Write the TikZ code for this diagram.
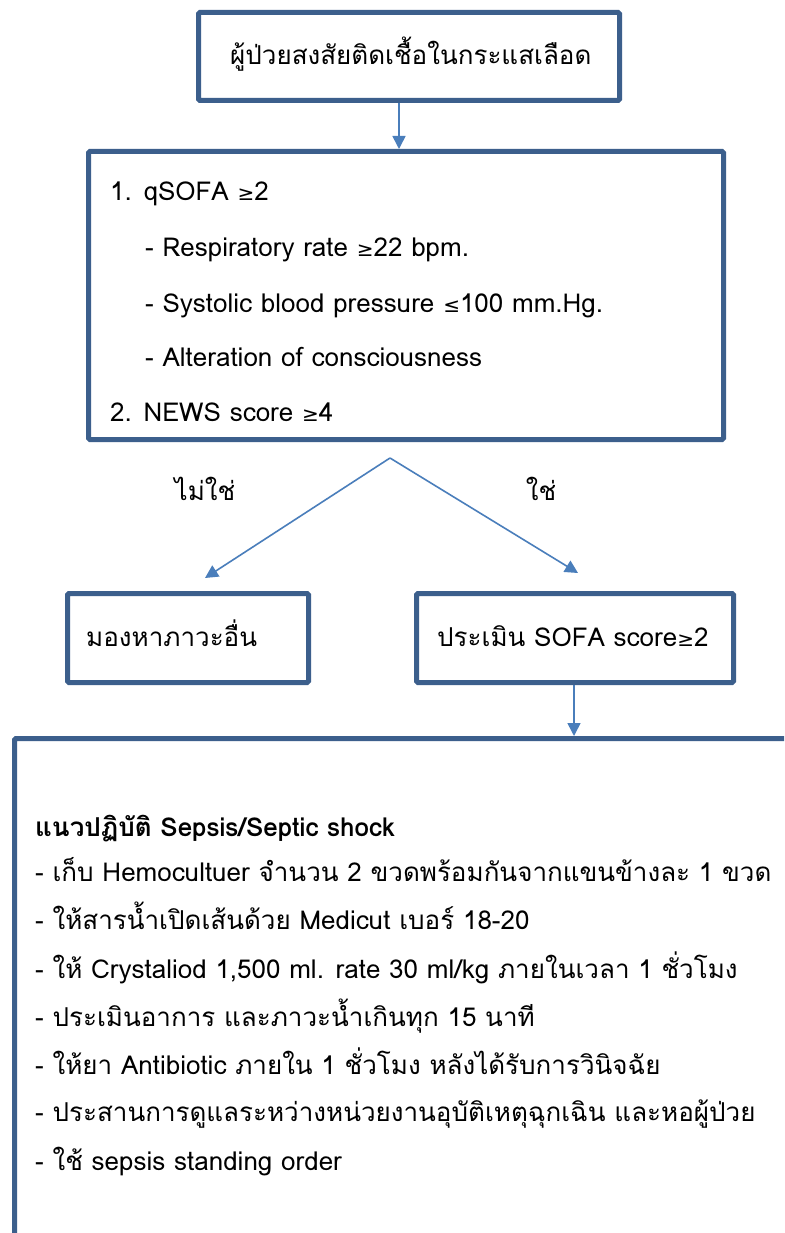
\documentclass[tikz,border=0pt]{standalone}
\usepackage{fontspec}
\setmainfont[Script=Thai]{Loma}
\newfontfamily\symf{DejaVu Sans}
\usetikzlibrary{arrows.meta}
\definecolor{boxc}{RGB}{60,95,140}
\definecolor{arrc}{RGB}{74,126,187}
\newcommand{\mygeq}{{\symf\fontsize{20}{22}\selectfont ≥}}
\newcommand{\myleq}{{\symf\fontsize{20}{22}\selectfont ≤}}
\begin{document}
\begin{tikzpicture}[x=1pt,y=-1pt,
  box/.style={draw=boxc,line width=5pt,rounded corners=1.5pt,anchor=north west,inner sep=0pt},
  txt/.style={anchor=base west,inner sep=0pt,font=\fontsize{26}{30}\selectfont},
  conn/.style={draw=arrc,line width=1.6pt,-{Triangle[length=13pt,width=13pt]}}]
\clip (0,0) rectangle (784,1233);
\fill[white] (0,0) rectangle (784,1233);
% boxes
\node[box,minimum width=421pt,minimum height=88pt] (b1) at (196,10) {};
\node[box,minimum width=635pt,minimum height=288pt] (b2) at (86,149) {};
\node[box,minimum width=241pt,minimum height=89pt] (b3) at (65,591) {};
\node[box,minimum width=317pt,minimum height=89pt] (b4) at (414,591) {};
\node[box,minimum width=820pt,minimum height=560pt] (b5) at (12,736) {};
% texts
\node[txt] (t1) at (230,65) {ผู้ป่วยสงสัยติดเชื้อในกระแสเลือด};
\node[txt] (q1) at (110,201) {1. qSOFA \mygeq2};
\node[txt] (q2) at (145,257) {- Respiratory rate \mygeq22 bpm.};
\node[txt] (q3) at (145,312) {- Systolic blood pressure \myleq100 mm.Hg.};
\node[txt] (q4) at (145,366) {- Alteration of consciousness};
\node[txt] (q5) at (110,421) {2. NEWS score \mygeq4};
\node[txt,anchor=base] (lno) at (205,500) {ไม่ใช่};
\node[txt,anchor=base] (lyes) at (541,500) {ใช่};
\node[txt] (t3) at (86,646) {มองหาภาวะอื่น};
\node[txt] (t4) at (437,646) {ประเมิน SOFA score\mygeq2};
\node[txt,font=\bfseries\fontsize{26}{30}\selectfont] (h5) at (35,836) {แนวปฏิบัติ Sepsis/Septic shock};
\node[txt] (l1) at (35,881) {- เก็บ Hemocultuer จำนวน 2 ขวดพร้อมกันจากแขนข้างละ 1 ขวด};
\node[txt] (l2) at (35,929) {- ให้สารน้ำเปิดเส้นด้วย Medicut เบอร์ 18-20};
\node[txt] (l3) at (35,978) {- ให้ Crystaliod 1,500 ml. rate 30 ml/kg ภายในเวลา 1 ชั่วโมง};
\node[txt] (l4) at (35,1026) {- ประเมินอาการ และภาวะน้ำเกินทุก 15 นาที};
\node[txt] (l5) at (35,1074) {- ให้ยา Antibiotic ภายใน 1 ชั่วโมง หลังได้รับการวินิจฉัย};
\node[txt] (l6) at (35,1121) {- ประสานการดูแลระหว่างหน่วยงานอุบัติเหตุฉุกเฉิน และหอผู้ป่วย};
\node[txt] (l7) at (35,1170) {- ใช้ sepsis standing order};
% connectors
\coordinate (br) at (390,458);
\coordinate (e3) at (205,578);
\coordinate (e4) at (578,573);
\draw[conn] (b1.south -| 399,0) -- (b2.north -| 399,0);
\draw[conn] (br) -- (e3);
\draw[conn] (br) -- (e4);
\draw[conn] (b4.south -| 574,0) -- (b5.north -| 574,0);
\end{tikzpicture}
\end{document}
